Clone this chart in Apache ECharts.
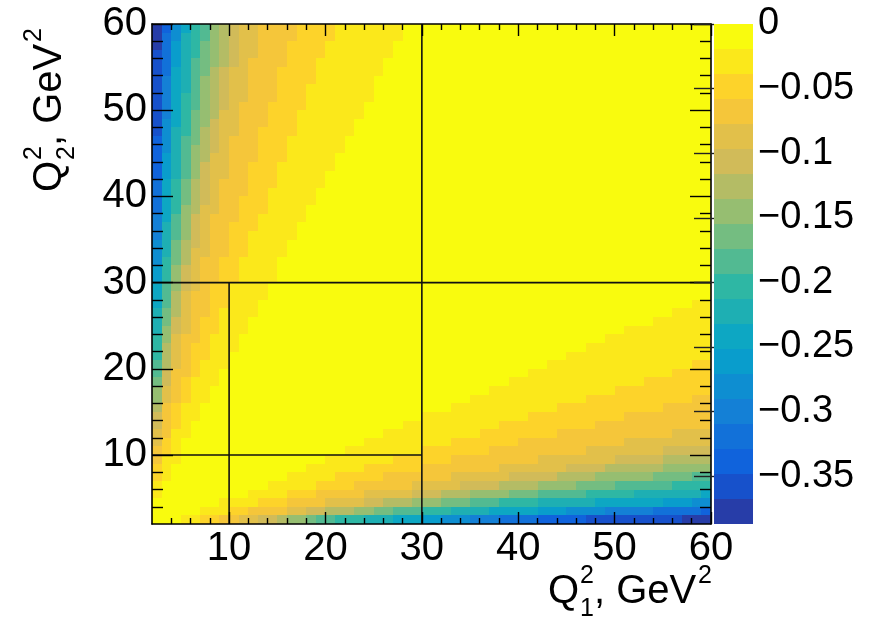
<!DOCTYPE html>
<html><head><meta charset="utf-8">
<script src="https://cdn.jsdelivr.net/npm/echarts@6/dist/echarts.min.js"></script>
<style>html,body{margin:0;padding:0;background:#fff}#c{width:880px;height:628px}</style>
</head><body><div id="c"></div>
<script>
// ---------------- data ----------------
const xRange = [2, 60];          // Q1^2, GeV^2
const yRange = [2, 60];          // Q2^2, GeV^2
const binSize = 1;
const zRange = [-0.387, 0];
const nLevels = 20;
const xTickValues = [10, 20, 30, 40, 50, 60];
const yTickValues = [10, 20, 30, 40, 50, 60];
const zTickValues = [0, -0.05, -0.1, -0.15, -0.2, -0.25, -0.3, -0.35];
// kBird-like palette, lowest level first
const palette = ['#273DA8','#1751CB','#1063DC','#1271D9','#1480D6','#0E8ED1','#099DCC','#0DA7C3','#1EAFB3','#2EB7A4',
                 '#52BA92','#74BD81','#96BE71','#B4BC65','#D1BB59','#E2C04A','#F5C63A','#FDD32A','#FBE81B','#F9FB0E'];
// Colour level read for each cell, row 0 = Q2^2 in [2,3]; run-length "level*count",
// level '0' = top band (just below 0) ... 'j' = bottom band (most negative)
const levelRows = [
 "0*3 1*2 2*2 3*2 4*2 5*2 6*1 7*2 8*1 9*2 a*3 b*3 c*3 d*2 e*3 f*3 g*4 h*5 i*10 j*3",
 "0*5 1*3 2*2 3*4 4*2 5*2 6*3 7*2 8*2 9*3 a*3 b*4 c*5 d*3 e*4 f*5 g*5 h*1",
 "0*7 1*4 2*3 3*4 4*4 5*2 6*3 7*3 8*3 9*3 a*4 b*6 c*7 d*3 e*2",
 "1*1 0*9 1*4 2*3 3*5 4*5 5*3 6*3 7*4 8*3 9*5 a*5 b*7 c*1",
 "1*1 0*11 1*5 2*4 3*6 4*5 5*4 6*4 7*4 8*4 9*6 a*4",
 "2*1 1*1 0*12 1*5 2*5 3*7 4*6 5*5 6*4 7*6 8*4 9*2",
 "2*1 1*1 0*14 1*6 2*6 3*8 4*7 5*4 6*6 7*5",
 "3*1 1*2 0*15 1*7 2*6 3*9 4*8 5*5 6*5",
 "3*1 2*1 1*1 0*17 1*8 2*7 3*10 4*8 5*5",
 "4*1 2*1 1*1 0*19 1*9 2*7 3*11 4*9",
 "4*1 3*1 1*2 0*20 1*10 2*8 3*12 4*4",
 "5*1 3*1 2*1 1*1 0*22 1*10 2*10 3*12",
 "5*1 3*1 2*1 1*2 0*23 1*11 2*10 3*9",
 "6*1 3*1 2*1 1*2 0*26 1*11 2*11 3*5",
 "7*1 4*1 3*1 2*1 1*2 0*27 1*12 2*11 3*2",
 "7*1 4*1 3*1 2*1 1*2 0*29 1*13 2*10",
 "8*1 5*1 3*1 2*1 1*3 0*30 1*14 2*7",
 "9*1 5*1 3*2 2*1 1*2 0*32 1*15 2*4",
 "9*1 6*1 4*1 3*1 2*1 1*3 0*33 1*15 2*2",
 "a*1 6*1 4*1 3*1 2*2 1*2 0*35 1*15",
 "a*1 6*1 4*1 3*1 2*2 1*3 0*36 1*13",
 "a*1 7*1 4*1 3*2 2*1 1*3 0*38 1*11",
 "b*1 7*1 5*1 4*1 3*1 2*2 1*3 0*39 1*9",
 "b*1 8*1 5*1 4*1 3*1 2*2 1*3 0*42 1*6",
 "b*1 8*1 6*1 4*1 3*2 2*1 1*4 0*43 1*4",
 "c*1 9*1 6*1 4*1 3*2 2*2 1*3 0*45 1*2",
 "c*1 9*1 6*1 4*1 3*2 2*2 1*4 0*46",
 "c*1 9*1 7*1 5*1 4*1 3*1 2*2 1*4 0*46",
 "d*1 a*1 7*1 5*1 4*1 3*2 2*2 1*4 0*45",
 "d*1 a*1 7*1 5*1 4*1 3*2 2*2 1*4 0*45",
 "e*1 a*1 8*1 6*1 4*1 3*2 2*2 1*4 0*45",
 "e*1 b*1 8*1 6*1 4*2 3*2 2*2 1*4 0*44",
 "e*1 b*1 8*1 6*1 5*1 4*1 3*2 2*2 1*4 0*44",
 "f*1 b*1 9*1 7*1 5*1 4*1 3*2 2*2 1*5 0*43",
 "f*1 b*1 9*1 7*1 5*1 4*1 3*2 2*3 1*4 0*43",
 "f*1 c*1 9*1 7*1 5*1 4*1 3*3 2*2 1*5 0*42",
 "g*1 c*1 a*1 7*1 6*1 4*2 3*2 2*3 1*4 0*42",
 "g*1 c*1 a*1 8*1 6*1 5*1 4*1 3*2 2*3 1*5 0*41",
 "g*1 c*1 a*1 8*1 6*1 5*1 4*1 3*3 2*2 1*5 0*41",
 "g*1 c*1 a*1 8*1 6*1 5*1 4*1 3*3 2*3 1*5 0*40",
 "h*1 d*1 b*1 9*1 7*1 5*1 4*2 3*2 2*3 1*5 0*40",
 "h*1 d*1 b*1 9*1 7*1 5*1 4*2 3*2 2*3 1*6 0*39",
 "h*1 d*1 b*1 9*1 7*1 6*1 4*2 3*3 2*3 1*5 0*39",
 "h*1 e*1 b*1 9*1 7*1 6*1 5*1 4*1 3*3 2*3 1*6 0*38",
 "h*1 e*1 b*1 9*1 8*1 6*1 5*1 4*1 3*3 2*3 1*6 0*38",
 "i*1 e*1 b*1 a*1 8*1 6*1 5*1 4*2 3*2 2*4 1*6 0*37",
 "i*1 e*1 c*1 a*1 8*1 7*1 5*1 4*2 3*3 2*3 1*6 0*37",
 "i*1 f*1 c*1 a*1 8*1 7*1 6*1 4*2 3*3 2*3 1*7 0*36",
 "i*1 f*1 c*1 a*1 9*1 7*1 6*1 5*1 4*1 3*3 2*4 1*6 0*36",
 "i*1 f*1 c*1 a*1 9*1 7*1 6*1 5*1 4*2 3*3 2*3 1*7 0*35",
 "i*1 f*1 c*1 b*1 9*1 7*1 6*1 5*1 4*2 3*3 2*3 1*7 0*35",
 "i*1 f*1 c*1 b*1 9*1 7*1 6*1 5*1 4*2 3*3 2*4 1*6 0*35",
 "i*1 g*1 c*1 b*1 9*1 8*1 6*1 5*1 4*2 3*3 2*4 1*7 0*34",
 "i*1 g*1 d*1 b*1 9*1 8*1 7*1 6*1 5*1 4*1 3*4 2*3 1*7 0*34",
 "i*1 g*1 d*1 b*1 a*1 8*1 7*1 6*1 5*1 4*2 3*3 2*4 1*7 0*33",
 "j*1 g*1 d*1 b*1 a*1 8*1 7*1 6*1 5*1 4*2 3*3 2*4 1*7 0*33",
 "j*1 g*1 e*1 b*1 a*1 9*1 7*1 6*1 5*1 4*2 3*4 2*4 1*7 0*32",
 "j*1 h*1 e*1 c*1 a*1 9*1 7*1 6*1 5*1 4*2 3*4 2*4 1*7 0*32"
];
// boundaries drawn on the plot: [[x0,y0],[x1,y1]]
const dividers = [
  [[2, 30], [60, 30]],
  [[30, 2], [30, 60]],
  [[2, 10], [30, 10]],
  [[10, 2], [10, 30]]
];
const xTitle = {q: 'Q', sub: '1', sup: '2', rest: ', GeV', sup2: '2'};
const yTitle = {q: 'Q', sub: '2', sup: '2', rest: ', GeV', sup2: '2'};

// ---------------- build ----------------
const codes = '0123456789abcdefghij';
const bandW = (zRange[1] - zRange[0]) / nLevels;
const cells = [];
levelRows.forEach((row, j) => {
  let i = 0;
  row.trim().split(/\s+/).forEach(tok => {
    const parts = tok.split('*');
    const lvl = codes.indexOf(parts[0]);
    for (let k = 0; k < +parts[1]; k++) {
      cells.push([xRange[0] + i * binSize, yRange[0] + j * binSize, zRange[1] - (lvl + 0.5) * bandW]);
      i++;
    }
  });
  if (i !== 58) console.warn('row', j, 'has', i);
});
const bands = palette.map((c, k) => [zRange[0] + k * bandW, zRange[0] + (k + 1) * bandW, zRange[0] + (k + 0.5) * bandW]);
const pieces = palette.map((c, k) => ({gte: zRange[0] + k * bandW - (k === 0 ? 1 : 0), lt: zRange[0] + (k + 1) * bandW + (k === nLevels - 1 ? 1 : 0), color: c}));

const FONT = 'Liberation Sans';
const LAB = 40;
const ZLAB = 38;
const black = '#000';

function frameAxis(extra) {
  return Object.assign({
    type: 'value', z: 10,
    axisLine: {show: true, onZero: false, lineStyle: {color: black, width: 1.6}},
    splitLine: {show: false},
    minorSplitLine: {show: false}
  }, extra);
}

const chart = echarts.init(document.getElementById('c'), null, {renderer: 'canvas'});
const series = [
  {
    type: 'custom', xAxisIndex: 0, yAxisIndex: 0, clip: true, z: 2,
    dimensions: ['x', 'y', 'z'], encode: {x: 0, y: 1},
    data: cells,
    renderItem(params, api) {
      const x0 = api.value(0), y0 = api.value(1);
      const a = api.coord([x0, y0 + binSize]);
      const b = api.coord([x0 + binSize, y0]);
      const L = Math.round(a[0]), T = Math.round(a[1]);
      return {type: 'rect', shape: {x: L, y: T, width: Math.round(b[0]) - L, height: Math.round(b[1]) - T},
              style: {fill: api.visual('color')}};
    }
  },
  {
    type: 'custom', xAxisIndex: 2, yAxisIndex: 2, z: 2,
    dimensions: ['lo', 'hi', 'z'],
    data: bands,
    renderItem(params, api) {
      const a = api.coord([0, api.value(1)]);
      const b = api.coord([1, api.value(0)]);
      const L = Math.round(a[0]), T = Math.round(a[1]);
      return {type: 'rect', shape: {x: L, y: T, width: Math.round(b[0]) - L, height: Math.round(b[1]) - T},
              style: {fill: api.visual('color')}};
    }
  }
];
dividers.forEach(seg => series.push({
  type: 'line', xAxisIndex: 0, yAxisIndex: 0, z: 5, data: seg, symbol: 'none', silent: true,
  lineStyle: {color: '#111', width: 1.6}
}));

const option = {
  animation: false,
  backgroundColor: '#fff',
  grid: [
    {left: 152, top: 24, width: 559, height: 500},
    {left: 714, top: 24, width: 39, height: 500}
  ],
  visualMap: {type: 'piecewise', show: false, dimension: 2, seriesIndex: [0, 1], pieces: pieces},
  xAxis: [
    frameAxis({gridIndex: 0, position: 'bottom', min: xRange[0], max: xRange[1],
      axisTick: {show: true, inside: true, length: 12, customValues: xTickValues, lineStyle: {color: black, width: 1.4}},
      minorTick: {show: true, splitNumber: 5, length: 6, lineStyle: {color: black, width: 1.4}},
      axisLabel: {show: true, customValues: xTickValues, fontSize: LAB, fontFamily: FONT, color: black, margin: 5}}),
    frameAxis({gridIndex: 0, position: 'top', min: xRange[0], max: xRange[1],
      axisTick: {show: true, inside: true, length: 12, customValues: xTickValues, lineStyle: {color: black, width: 1.4}},
      minorTick: {show: true, splitNumber: 5, length: 6, lineStyle: {color: black, width: 1.4}},
      axisLabel: {show: false}}),
    {type: 'value', gridIndex: 1, min: 0, max: 1, show: false}
  ],
  yAxis: [
    frameAxis({gridIndex: 0, position: 'left', min: yRange[0], max: yRange[1],
      axisTick: {show: true, inside: true, length: 21, customValues: yTickValues, lineStyle: {color: black, width: 1.4}},
      minorTick: {show: true, splitNumber: 5, length: 11, lineStyle: {color: black, width: 1.4}},
      axisLabel: {show: true, customValues: yTickValues, fontSize: LAB, fontFamily: FONT, color: black, margin: 5}}),
    frameAxis({gridIndex: 0, position: 'right', min: yRange[0], max: yRange[1],
      axisTick: {show: true, inside: true, length: 21, customValues: yTickValues, lineStyle: {color: black, width: 1.4}},
      minorTick: {show: true, splitNumber: 5, length: 11, lineStyle: {color: black, width: 1.4}},
      axisLabel: {show: false}}),
    {type: 'value', gridIndex: 1, position: 'right', min: zRange[0], max: zRange[1], z: 10, splitNumber: 8,
      axisLine: {show: false},
      splitLine: {show: false},
      axisTick: {show: true, inside: true, length: 20, customValues: zTickValues, lineStyle: {color: '#222', width: 1.4}},
      axisLabel: {show: true, customValues: zTickValues, fontSize: ZLAB, fontFamily: FONT, color: black, margin: 5,
        formatter: v => Math.abs(v) < 1e-9 ? '0' : '\u2212' + String(+Math.abs(v).toFixed(2))}}
  ],
  series: series,
  graphic: [
    // x title
    {type: 'group', x: 548, y: 592, children: [
      {type: 'text', x: 0, y: 0, style: {text: xTitle.q, font: '40px ' + FONT, fill: black, verticalAlign: 'middle'}},
      {type: 'text', x: 32, y: -16, style: {text: xTitle.sup, font: '25px ' + FONT, fill: black, verticalAlign: 'middle'}},
      {type: 'text', x: 32, y: 17, style: {text: xTitle.sub, font: '25px ' + FONT, fill: black, verticalAlign: 'middle'}},
      {type: 'text', x: 46, y: 0, style: {text: xTitle.rest, font: '40px ' + FONT, fill: black, verticalAlign: 'middle'}},
      {type: 'text', x: 150, y: -16, style: {text: xTitle.sup2, font: '25px ' + FONT, fill: black, verticalAlign: 'middle'}}
    ]},
    // y title (rotated)
    {type: 'group', x: 50, y: 192, rotation: Math.PI / 2, children: [
      {type: 'text', x: 0, y: 0, style: {text: yTitle.q, font: '40px ' + FONT, fill: black, verticalAlign: 'middle'}},
      {type: 'text', x: 32, y: -16, style: {text: yTitle.sup, font: '25px ' + FONT, fill: black, verticalAlign: 'middle'}},
      {type: 'text', x: 32, y: 17, style: {text: yTitle.sub, font: '25px ' + FONT, fill: black, verticalAlign: 'middle'}},
      {type: 'text', x: 46, y: 0, style: {text: yTitle.rest, font: '40px ' + FONT, fill: black, verticalAlign: 'middle'}},
      {type: 'text', x: 150, y: -16, style: {text: yTitle.sup2, font: '25px ' + FONT, fill: black, verticalAlign: 'middle'}}
    ]}
  ]
};
chart.setOption(option);
</script>
</body></html>
